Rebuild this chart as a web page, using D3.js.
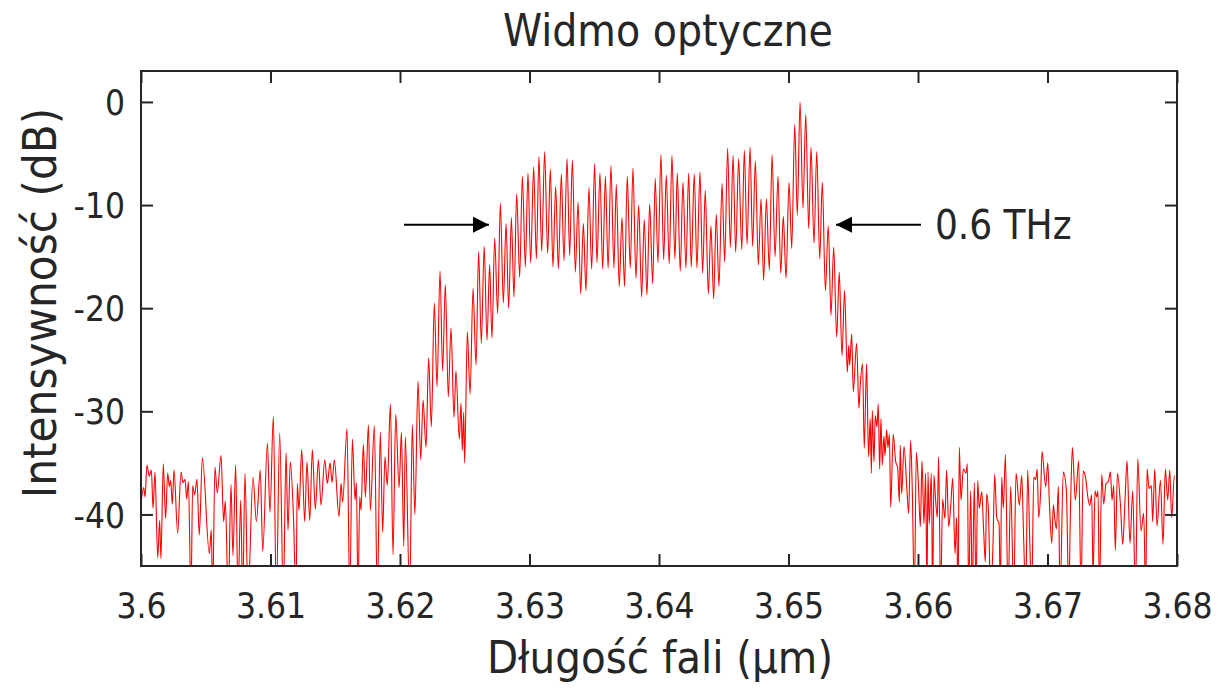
<!DOCTYPE html>
<html><head><meta charset="utf-8">
<script src="https://cdn.jsdelivr.net/npm/d3@7"></script>
<style>
body{margin:0;background:#fff}
svg{display:block}
text{font-family:"DejaVu Sans Condensed","DejaVu Sans",sans-serif;font-stretch:condensed;fill:#262626}
</style>
</head><body><svg id="chart" width="1218" height="690"></svg>
<script>
// ---------------- data ----------------
const chartTitle = "Widmo optyczne";
const xAxisLabel = "Długość fali (µm)";
const yAxisLabel = "Intensywność (dB)";
const xTicks = [3.6,3.61,3.62,3.63,3.64,3.65,3.66,3.67,3.68];
const xTickLabels = ["3.6","3.61","3.62","3.63","3.64","3.65","3.66","3.67","3.68"];
const yTicks = [0,-10,-20,-30,-40];
const yTickLabels = ["0","-10","-20","-30","-40"];

// wavelength in µm
const wavelength = [
3.60000,3.60021,3.60031,3.60046,3.60064,3.60080,3.60093,3.60108,3.60129,3.60144,
3.60154,3.60172,3.60190,3.60206,3.60219,3.60229,3.60242,3.60255,3.60283,3.60309,
3.60324,3.60340,3.60353,3.60366,3.60386,3.60399,3.60414,3.60432,3.60450,3.60474,
3.60528,3.60543,3.60553,3.60571,3.60589,3.60618,3.60638,3.60651,3.60674,3.60695,
3.60710,3.60731,3.60749,3.60770,3.60785,3.60803,3.60826,3.60865,3.60891,3.60921,
3.60940,3.60976,3.60996,3.61022,3.61045,3.61071,
3.61099,3.61120,3.61135,3.61153,3.61177,3.61197,3.61207,3.61220,3.61241,3.61264,
3.61282,3.61303,3.61323,3.61346,3.61370,3.61390,3.61419,3.61439,3.61460,3.61475,
3.61493,3.61529,3.61545,3.61557,3.61591,3.61612,3.61632,3.61653,3.61663,3.61676,
3.61689,3.61699,3.61717,3.61733,3.61756,3.61771,3.61802,3.61825,3.61848,3.61866,
3.61884,3.61902,3.61926,3.61946,3.61967,3.61993,3.62011,3.62029,3.62041,3.62075,3.62095,
3.62115,3.62139,3.62160,3.62178,3.62201,3.62221,3.62242,3.62265,3.62286,3.62309,
3.62329,3.62350,3.62373,3.62394,3.62417,3.62432,3.62458,3.62471,3.62481,3.62492,
3.62499,3.62520,3.62541,3.62564,3.62587,3.62607,3.62628,3.62650,3.62672,3.62692,
3.62710,3.62731,3.62754,3.62775,3.62798,3.62819,3.62839,3.62860,3.62880,3.62901,
3.62924,3.62945,3.62968,3.62988,3.63009,3.63032,3.63053,3.63073,3.63094,3.63117,
3.63140,3.63161,3.63181,3.63202,3.63223,3.63246,3.63266,3.63290,3.63310,3.63331,
3.63354,3.63375,3.63395,3.63416,3.63436,3.63459,3.63480,3.63503,3.63521,3.63544,
3.63565,3.63586,3.63607,
3.63629,3.63652,3.63670,3.63693,3.63714,3.63734,3.63755,3.63778,3.63799,3.63822,
3.63843,3.63866,3.63886,3.63907,3.63928,3.63951,3.63971,3.63992,3.64015,3.64036,
3.64056,3.64079,3.64100,3.64123,3.64141,3.64164,3.64185,3.64208,3.64229,3.64249,
3.64272,3.64293,3.64316,3.64337,3.64357,3.64381,3.64401,3.64422,3.64442,3.64463,
3.64487,3.64507,3.64530,3.64551,3.64572,3.64592,3.64615,3.64639,3.64659,3.64680,
3.64703,3.64723,3.64744,3.64767,3.64788,3.64808,3.64829,3.64852,3.64873,3.64896,
3.64919,3.64940,3.64960,3.64981,3.65004,3.65025,3.65048,3.65068,3.65089,3.65112,
3.65133,3.65156,3.65174,3.65197,3.65218,3.65241,3.65261,3.65285,3.65307,
3.65328,3.65349,3.65372,3.65392,3.65413,3.65433,3.65454,3.65465,3.65472,3.65488,
3.65500,3.65526,3.65544,3.65554,3.65572,3.65585,3.65603,3.65618,3.65631,3.65640,
3.65647,3.65660,3.65670,3.65683,3.65693,3.65704,3.65714,3.65724,3.65737,3.65745,
3.65758,3.65768,3.65779,3.65789,3.65809,3.65827,3.65843,3.65856,3.65863,3.65874,
3.65892,3.65915,3.65928,3.65943,3.65956,3.65972,3.65987,3.66002,3.66018,3.66031,
3.66046,3.66059,3.66069,3.66077,3.66087,3.66103,3.66113,3.66123,3.66136,3.66149,
3.66159,3.66175,3.66190,3.66208,3.66221,3.66237,3.66252,3.66268,3.66286,3.66298,
3.66309,3.66319,3.66332,3.66350,3.66371,3.66381,3.66391,3.66407,3.66419,3.66435,
3.66448,3.66461,3.66473,3.66492,3.66507,3.66520,3.66530,3.66543,3.66561,3.66579,
3.66592,3.66608,3.66626,3.66636,3.66646,3.66659,3.66675,3.66695,3.66716,3.66739,
3.66757,3.66783,3.66801,3.66816,3.66832,3.66847,3.66863,3.66878,3.66894,3.66909,
3.66920,3.66932,3.66948,3.66958,3.66986,3.67002,3.67015,3.67033,3.67045,3.67058,
3.67069,3.67084,3.67097,3.67122,3.67146,3.67164,3.67177,3.67192,3.67215,3.67241,
3.67259,3.67275,3.67295,3.67310,3.67326,3.67341,3.67352,3.67367,3.67380,3.67390,
3.67401,3.67419,3.67434,3.67452,3.67470,3.67486,3.67498,3.67511,3.67524,3.67540,
3.67563,3.67581,3.67599,3.67614,3.67637,3.67658,3.67679,3.67697,3.67722,3.67743,
3.67758,3.67769,3.67784,3.67802,3.67812,3.67828,3.67846,3.67872,3.67892,3.67910,
3.67928,3.67944,3.67959,3.67980,3.67998
];
// intensity in dB
const intensity = [
-38.9,-37.4,-38.3,-35.2,-36.3,-35.7,-39.4,-35.9,-44.2,-40.6,
-44.3,-35.1,-40.4,-36.0,-37.3,-36.7,-39.0,-35.7,-41.8,-35.9,
-36.9,-36.6,-38.5,-36.8,-48,-37.2,-38.1,-36.6,-42.0,-34.5,
-43.8,-41.5,-48,-35.4,-37.9,-34.3,-40.7,-38.7,-48,-37.1,
-44.0,-35.2,-48,-38.6,-48,-36.0,-48,-36.4,-40.7,-35.7,
-43.6,-33.1,-39.8,-30.5,-48,-32.1,
-48,-34.0,-41.5,-34.9,-40.1,-48,-37.0,-39.6,-33.7,-40.7,
-34.9,-40.6,-33.7,-39.5,-34.7,-39.1,-34.7,-37.0,-35.0,-36.9,
-34.7,-40.2,-37.0,-38.8,-31.7,-48,-32.7,-38.6,-36.9,-48,
-38.3,-39.6,-33.2,-38.3,-31.3,-39.6,-31.4,-48,-32.0,-41.7,
-34.4,-37.2,-29.3,-43.9,-30.3,-37.4,-32.0,-43.1,-32.5,-48,-31.3,
-40.0,-27.1,-34.7,-28.9,-33.5,-24.8,-31.5,-19.5,-27.6,-16.4,
-26.1,-17.7,-28.6,-21.9,-30.6,-26.1,-32.7,-29.2,-33.8,-30.1,
-35.0,-22.3,-28.3,-18.1,-25.5,-14.5,-23.4,-14.0,-23.1,-15.8,
-22.9,-13.2,-20.5,-9.8,-19.5,-11.8,-20.0,-11.2,-18.9,-8.9,
-17.0,-7.2,-16.0,-6.9,-15.6,-6.3,-15.2,-5.3,-14.5,-4.8,
-14.7,-6.5,-16.0,-8.2,-16.2,-7.0,-15.4,-5.5,-14.9,-5.6,
-16.5,-9.7,-18.6,-11.8,-18.3,-8.3,-16.2,-6.0,-15.6,-6.9,
-16.2,-7.2,-16.1,
-6.2,-16.1,-8.0,-17.9,-11.2,-17.9,-7.2,-16.1,-6.4,-17.1,
-10.0,-18.9,-11.4,-18.7,-9.9,-17.6,-7.4,-15.6,-5.1,-15.3,
-7.1,-15.7,-5.2,-15.2,-6.9,-16.4,-7.8,-16.1,-6.9,-16.0,
-7.0,-16.1,-6.8,-16.6,-8.6,-18.6,-12.0,-19.1,-10.9,-17.9,
-7.9,-15.5,-4.5,-14.1,-5.2,-14.6,-5.5,-14.3,-4.7,-13.8,
-4.4,-14.0,-5.7,-15.8,-9.4,-17.3,-9.4,-16.3,-5.1,-15.0,
-7.2,-16.6,-11.1,-17.1,-7.8,-14.2,-2.2,-11.0,0.0,-10.3,
-1.2,-12.3,-4.4,-13.7,-4.8,-15.2,-7.8,-18.3,-12.0,
-20.7,-14.1,-22.8,-16.5,-24.6,-18.3,-26.2,-23.6,-25.5,-22.5,
-28.1,-23.4,-29.7,-27.5,-25.4,-33.6,-25.4,-34.4,-30.7,-36.0,
-29.9,-34.9,-30.4,-31.5,-29.3,-35.6,-30.7,-35.2,-32.4,-34.3,
-31.8,-33.5,-32.2,-39.3,-32.2,-34.8,-35.5,-38.8,-33.3,-38.0,
-33.4,-37.7,-39.9,-32.8,-37.7,-48,-34.0,-36.7,-41.2,-34.8,
-40.9,-36.0,-48,-35.9,-40.9,-36.0,-48,-36.2,-38.6,-40.3,
-34.4,-48,-38.5,-40.4,-35.7,-41.2,-39.3,-36.5,-43.8,-40.3,
-48,-33.5,-38.6,-35.6,-36.0,-35.1,-48,-37.7,-48,-36.9,
-48,-36.7,-39.4,-37.8,-41.6,-44.6,-38.0,-39.4,-48,-43.0,
-36.1,-40.3,-40.9,-48,-36.4,-39.4,-34.2,-48,-37.3,-48,
-36.0,-39.1,-36.2,-42.4,-48,-35.7,-42.5,-48,-36.4,-36.6,
-35.6,-40.3,-37.5,-33.9,-37.3,-35.0,-39.0,-42.8,-39.1,-40.6,
-41.4,-37.3,-48,-35.9,-37.7,-48,-39.9,-33.5,-38.6,-34.8,
-48,-35.8,-36.5,-38.2,-39.1,-38.1,-46,-37.7,-38.3,-37.7,
-48,-36.1,-39.0,-37.0,-36.8,-35.9,-38.6,-37.2,-43.5,-36.0,
-39.0,-42.9,-38.5,-34.8,-42.8,-37.7,-48,-34.6,-41.6,-39.9,
-48,-35.6,-37.5,-37.2,-40.7,-35.6,-41.1,-36.7,-42.9,-35.6,
-38.6,-35.7,-40.3,-36.2
];

// annotation: bandwidth arrows (wavelength µm, dB)
const arrowLevel = -11.9;
const leftArrow = [3.62031, 3.62687];   // tail, tip
const rightArrow = [3.66023, 3.65367];  // tail, tip
const bandwidthLabel = "0.6 THz";
const bandwidthLabelX = 3.66131;

// ---------------- drawing ----------------
const svg = d3.select("#chart");
svg.append("rect").attr("width",1218).attr("height",690).attr("fill","#fff");

const x = d3.scaleLinear().domain([3.6,3.68]).range([141,1177]);
const y = d3.scaleLinear().domain([-45,3]).range([566,71]);
const axisColor = "#262626";

svg.append("defs").append("clipPath").attr("id","clip")
  .append("rect").attr("x",141).attr("y",71).attr("width",1036).attr("height",495);

const pts = wavelength.map((w,i)=>[w,intensity[i]]);
const line = d3.line().x(d=>x(d[0])).y(d=>y(d[1])).curve(d3.curveMonotoneX);
svg.append("path").datum(pts).attr("clip-path","url(#clip)")
  .attr("d",line).attr("fill","none").attr("stroke","#ff0000").attr("stroke-width",1.1)
  .attr("stroke-linejoin","round");

// axes
const fs = 35;
const gB = svg.append("g").attr("transform","translate(0,566)")
  .call(d3.axisBottom(x).tickValues(xTicks).tickFormat((d,i)=>xTickLabels[i]).tickSizeInner(-12).tickSizeOuter(0).tickPadding(27));
const gT = svg.append("g").attr("transform","translate(0,71)")
  .call(d3.axisTop(x).tickValues(xTicks).tickFormat("").tickSizeInner(-12).tickSizeOuter(0));
const gL = svg.append("g").attr("transform","translate(141,0)")
  .call(d3.axisLeft(y).tickValues(yTicks).tickFormat((d,i)=>yTickLabels[i]).tickSizeInner(-12).tickSizeOuter(0).tickPadding(16));
const gR = svg.append("g").attr("transform","translate(1177,0)")
  .call(d3.axisRight(y).tickValues(yTicks).tickFormat("").tickSizeInner(-12).tickSizeOuter(0));
[gB,gT,gL,gR].forEach(g=>{
  g.select(".domain").remove();
  g.selectAll(".tick line").attr("stroke",axisColor).attr("stroke-width",2);
  g.selectAll(".tick text").attr("fill",axisColor).style("font-size",fs+"px").attr("font-family",null);
});
gL.selectAll(".tick text").attr("dy","0.36em");

svg.append("rect").attr("x",141).attr("y",71).attr("width",1036).attr("height",495)
  .attr("fill","none").attr("stroke",axisColor).attr("stroke-width",2);

// title & labels
svg.append("text").attr("x",668).attr("y",46).attr("text-anchor","middle")
  .style("font-size","44px").text(chartTitle);
svg.append("text").attr("x",660).attr("y",673).attr("text-anchor","middle")
  .style("font-size","45px").text(xAxisLabel);
svg.append("text").attr("transform","translate(56,303) rotate(-90)").attr("text-anchor","middle")
  .style("font-size","47px").text(yAxisLabel);

// arrows
const defs = svg.select("defs");
defs.append("marker").attr("id","ah").attr("viewBox","0 0 16 16").attr("refX",16).attr("refY",8)
  .attr("markerWidth",16).attr("markerHeight",16).attr("markerUnits","userSpaceOnUse").attr("orient","auto")
  .append("path").attr("d","M0,0L16,8L0,16Z").attr("fill","#000");
[leftArrow,rightArrow].forEach(a=>{
  svg.append("line").attr("x1",x(a[0])).attr("x2",x(a[1])).attr("y1",y(arrowLevel)).attr("y2",y(arrowLevel))
    .attr("stroke","#000").attr("stroke-width",2).attr("marker-end","url(#ah)");
});
svg.append("text").attr("x",x(bandwidthLabelX)).attr("y",y(arrowLevel)).attr("dy","0.36em")
  .style("font-size","40px").text(bandwidthLabel);
</script>
</body></html>
